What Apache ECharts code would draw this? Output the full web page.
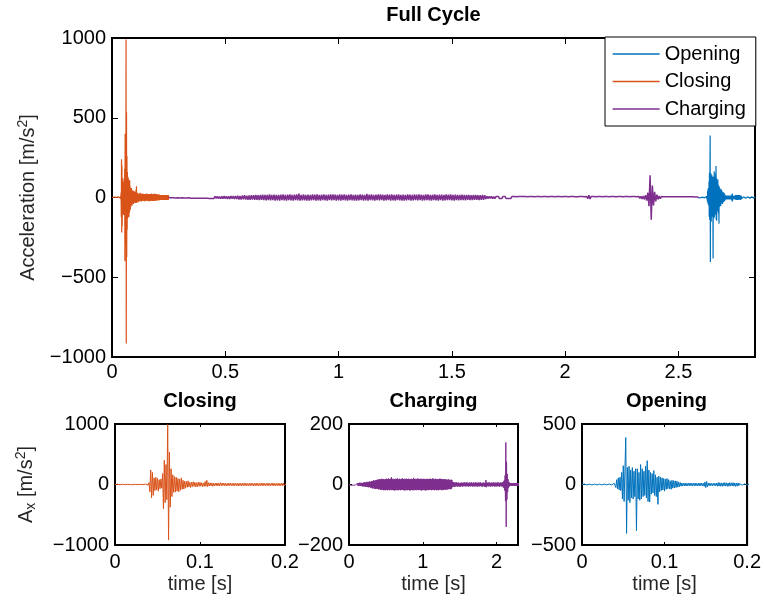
<!DOCTYPE html>
<html><head><meta charset="utf-8">
<script src="https://cdn.jsdelivr.net/npm/echarts@6/dist/echarts.min.js"></script>
<style>html,body{margin:0;padding:0;background:#fff}#c{width:764px;height:601px}</style>
</head><body><div id="c"></div>
<script>
// ---- data ----
const closingDt = 0.001, chargingDt = 0.005, openingDt = 0.001;   // sample step [s]
const closingStart = 0, chargingStart = 0.25, openingStart = 2.587; // position in full cycle [s]
const seriesNames = ['Opening', 'Closing', 'Charging'];
const fullCycleXTicks = [0, 0.5, 1, 1.5, 2, 2.5];

const closingAccel = [
 0,2,-2,3,-1,2,-3,1,-2,3,
 -2,1,-3,2,-1,3,-2,2,-3,1,
 2,-2,3,-1,2,-3,1,-2,4,-3,
 2,-4,3,-2,5,-4,6,-5,8,-10,
 30,-120,240,-220,200,-180,110,-100,120,-90,
 100,-110,80,-70,90,-60,180,-400,400,-300,
 330,-250,990,-915,535,-375,260,-200,160,-130,
 130,-125,120,-110,100,-120,90,-95,110,-80,
 70,-75,55,-60,50,-45,60,-40,35,-50,
 40,-35,45,-30,35,-40,30,-35,40,-30,
 35,-28,30,-35,25,-30,50,-30,70,-35,
 30,-25,28,-22,25,-30,20,-25,22,-20,
 25,-22,20,-25,30,-20,22,-18,25,-22,
 20,-25,18,-20,22,-18,25,-20,18,-22,
 20,-18,22,-20,18,-25,20,-18,22,-20,
 18,-20,25,-18,20,-22,18,-20,22,-18,
 20,-18,22,-25,18,-20,22,-18,20,-22,
 18,-20,22,-18,25,-20,18,-22,20,-18,
 22,-20,18,-22,20,-18,25,-20,18,-22,
 20,-18,22,-20,18,-20,22,-18,20,-18,
 15,-18,20,-15,18,-15,16,-18,15,-16,
 18,-15,16,-14,15,-16,14,-15,16,-14,
 15,-14,16,-15,14,-16,15,-14,16,-15,
 14,-15,16,-14,15,-14,16,-15,14,-16,
 15,-14,16,-15,14,-15,14,-16,15,-14,12
];

const chargingAccel = [
 0,2,-2,3,-2,1,-3,2,-2,3,-3,2,-2,3,-3,2,-3,3,-2,3,
 -4,3,-4,5,-4,4,-5,5,-4,6,-5,4,-5,6,-5,5,-6,5,-6,6,
 -6,7,-6,8,-7,6,-8,7,-8,9,-7,8,-9,8,-9,10,-8,9,-10,9,
 -10,11,-12,10,-13,12,-11,14,-13,12,-14,13,-15,14,-13,15,-14,16,-15,14,
 -16,17,-15,18,-16,17,-18,16,-17,19,-18,17,-16,18,-19,17,-18,16,-19,18,
 -17,19,-18,16,-19,18,-17,20,-18,17,-19,18,-16,19,-18,24,-19,17,-18,19,
 -18,17,-19,18,-20,17,-18,19,-17,18,-19,20,-18,17,-19,18,-17,19,-18,17,
 -19,18,-17,19,-18,20,-17,18,-19,17,-18,19,-20,18,-17,19,-18,17,-19,18,
 -17,19,-18,17,-19,18,-20,17,-18,19,-17,18,-19,17,-18,22,-19,18,-17,19,
 -18,17,-19,18,-17,19,-18,20,-17,18,-19,17,-18,19,-17,18,-20,19,-18,17,
 -19,18,-17,19,-18,17,-19,18,-20,17,-18,19,-17,18,-19,17,-18,19,-17,18,
 -18,19,-17,18,-19,17,-18,20,-17,19,-18,17,-19,18,-17,19,-18,17,-19,18,
 -17,18,-19,17,-18,19,-17,18,-16,19,-18,17,-19,18,-17,16,-18,17,-16,18,
 -17,16,-18,17,-15,16,-17,15,-16,17,-15,16,-14,15,-16,14,-15,16,-14,15,
 -9,8,-7,8,-6,7,-8,6,-7,6,-5,7,-6,5,-7,6,-5,6,-7,5,
 -6,5,-7,6,-5,6,-6,5,-7,6,-5,6,-6,7,-5,6,-6,5,-6,7,
 -5,6,-6,5,-7,6,-5,6,-6,5,-6,7,-5,6,-6,5,-7,6,-5,6,
 -6,5,-6,7,-5,6,-6,5,-7,6,-5,6,-6,5,-6,7,-5,6,-6,5,
 -6,5,-7,6,-5,6,-6,5,-7,6,-8,15,-9,6,-5,6,-6,5,-6,7,
 -5,6,-6,5,-7,6,-5,6,-6,5,-6,7,-5,6,-6,5,-7,6,-5,6,
 -6,5,-6,7,-5,6,-6,5,-7,6,-5,6,-6,5,-6,7,-6,8,-9,10,
 -12,15,-20,30,-55,139,-140,75,-50,35,-25,18,-12,9,-7,6,-5,5,-4,5,
 -4,5,-4,4,-5,4,-4,5,-4,4,-5,4,-4,5,-4,4,-5,4,-4,5,
 -4,4,-5,4,-4,3,-4,3,-3
];

const openingAccel = [
 0,2,-2,3,-2,1,-3,2,-2,3,
 -2,2,-3,1,-2,3,-2,2,-3,2,
 -2,3,-1,2,-3,2,-2,3,-2,1,
 -3,2,-2,4,-3,5,-4,6,-8,10,
 15,-25,40,-35,55,-45,60,-50,100,-120,
 155,-140,120,388,-404,140,-130,150,-150,120,
 -110,140,-120,110,-100,130,-383,130,-120,100,
 -130,165,-120,130,-100,110,-90,150,-110,197,
 -140,120,-145,100,-80,90,-70,115,-90,80,
 -100,60,-164,70,-60,60,-50,55,-45,50,
 -55,45,-40,50,-35,40,-35,30,-40,35,
 -30,32,-28,30,-25,28,-22,20,-18,16,
 -14,12,-13,12,-11,12,-12,10,-12,11,
 -10,12,-11,10,-12,11,-10,12,-11,10,
 -12,10,-11,12,-10,11,-12,10,-15,20,
 -25,25,-20,12,-10,11,-10,9,-11,10,
 -9,10,-11,12,-14,15,-13,15,-14,12,
 -15,14,-12,15,-13,14,-15,12,-14,15,
 -13,14,-12,15,-14,13,-15,12,-14,13,
 -10,8,-6,5,-6,5,-4,5,-6,4,
 -5,4,-5,6,-4,5,-3,5,-6,4,
 -4,5,-5,3,-4,6,-4,5,-5,4,
 -5,3,-6,5,-4,4,-5,6,-4,5,
 -4,5,-5,4,-6,5,-3,4,-5,6,
 -5,4,-4,6,-5,3,-4,5,-6,4,
 -5,4,-3
];

// ---- build [t, a] pairs from sample clock ----
function toPairs(arr, dt, offset) { return arr.map((a, i) => [+(offset + i * dt).toFixed(4), a]); }
const closingLocal = toPairs(closingAccel, closingDt, 0);
const chargingLocal = toPairs(chargingAccel, chargingDt, 0);
const openingLocal = toPairs(openingAccel, openingDt, 0);
const closingFull = toPairs(closingAccel, closingDt, closingStart);
const chargingFull = toPairs(chargingAccel, chargingDt, chargingStart);
const openingFull = toPairs(openingAccel, openingDt, openingStart);

const colors = { Opening: '#0072BD', Closing: '#D95319', Charging: '#7E2F8E' };
const FONT = '"Liberation Sans", Arial, Helvetica, sans-serif';
const fmt = v => String(+v.toFixed(3)).replace('-', '\u2212');

const grids = [
  { left: 112, top: 38, width: 643, height: 319 },
  { left: 115, top: 424, width: 170, height: 121 },
  { left: 349, top: 424, width: 169, height: 121 },
  { left: 582, top: 424, width: 169, height: 121 }
].map(g => Object.assign({ show: true, borderColor: '#000', borderWidth: 2, backgroundColor: 'transparent' }, g));

const tickLen = [6, 3, 3, 3];
const xCfg = [
  { min: 0, max: 2.838, interval: 0.5, showMax: false, margin: 5 },
  { min: 0, max: 0.2, interval: 0.1, showMax: true, margin: 7, name: 'time [s]' },
  { min: 0, max: 2.29, interval: 1, showMax: false, margin: 7, name: 'time [s]' },
  { min: 0, max: 0.2, interval: 0.1, showMax: true, margin: 7, name: 'time [s]' }
];
const yCfg = [
  { min: -1000, max: 1000, interval: 500, name: 'Acceleration [m/s{sup|2}]', gap: 59 },
  { min: -1000, max: 1000, interval: 1000, name: 'A{sub|x} [m/s{sup|2}]', gap: 76 },
  { min: -200, max: 200, interval: 200 },
  { min: -500, max: 500, interval: 500 }
];
const richStyles = {
  sup: { fontSize: 14, fontFamily: FONT, color: '#262626', padding: [0, 0, 11, 0] },
  sub: { fontSize: 14, fontFamily: FONT, color: '#262626', padding: [10, 0, 0, 0] }
};

const xAxis = [], yAxis = [];
grids.forEach((g, i) => {
  const xc = xCfg[i], yc = yCfg[i];
  ['bottom', 'top'].forEach((pos, k) => {
    xAxis.push({
      type: 'value', gridIndex: i, position: pos, min: xc.min, max: xc.max, interval: xc.interval,
      axisLine: { show: true, onZero: false, lineStyle: { color: '#000', width: 2 } },
      axisTick: { show: true, inside: true, length: tickLen[i], lineStyle: { color: '#000', width: 1 } },
      axisLabel: { show: k === 0, color: '#000', fontSize: 20, fontFamily: FONT, margin: xc.margin,
                   showMaxLabel: xc.showMax, showMinLabel: true, formatter: fmt },
      splitLine: { show: false },
      name: k === 0 && xc.name ? xc.name : '', nameLocation: 'middle', nameGap: 29,
      nameTextStyle: { color: '#262626', fontSize: 20, fontFamily: FONT }
    });
  });
  ['left', 'right'].forEach((pos, k) => {
    yAxis.push({
      type: 'value', gridIndex: i, position: pos, min: yc.min, max: yc.max, interval: yc.interval,
      axisLine: { show: true, onZero: false, lineStyle: { color: '#000', width: 2 } },
      axisTick: { show: true, inside: true, length: tickLen[i], lineStyle: { color: '#000', width: 1 } },
      axisLabel: { show: k === 0, color: '#000', fontSize: 20, fontFamily: FONT, margin: 6, formatter: fmt },
      splitLine: { show: false },
      name: k === 0 && yc.name ? yc.name : '', nameLocation: 'middle', nameGap: yc.gap || 50,
      nameTextStyle: { color: '#262626', fontSize: 20, fontFamily: FONT, rich: richStyles }
    });
  });
});

function lineSeries(name, data, gi, z, w) {
  return {
    name, type: 'line', data, xAxisIndex: gi * 2, yAxisIndex: gi * 2, symbol: 'none', showSymbol: false,
    lineStyle: { color: colors[name], width: w || 1 }, itemStyle: { color: colors[name] }, color: colors[name],
    z, animation: false, silent: true, clip: true
  };
}

const series = [
  lineSeries('Opening', openingFull, 0, 2, 1.2),
  lineSeries('Closing', closingFull, 0, 3, 1.2),
  lineSeries('Charging', chargingFull, 0, 4, 1.5),
  lineSeries('Closing', closingLocal, 1, 3),
  lineSeries('Charging', chargingLocal, 2, 3),
  lineSeries('Opening', openingLocal, 3, 3)
];

const titles = [
  { text: 'Full Cycle', x: 433.5, y: 15 },
  { text: 'Closing', x: 200, y: 401 },
  { text: 'Charging', x: 433.5, y: 401 },
  { text: 'Opening', x: 666.5, y: 401 }
];

const chart = echarts.init(document.getElementById('c'), null, { renderer: 'canvas' });
chart.setOption({
  backgroundColor: '#fff',
  animation: false,
  grid: grids, xAxis, yAxis, series,
  legend: {
    data: seriesNames.map(n => ({ name: n, lineStyle: { color: colors[n], width: 1.3 } })),
    orient: 'vertical', left: 605, top: 37,
    itemWidth: 47, itemHeight: 20, itemGap: 7.5, itemTextGap: 4,
    padding: [7, 10, 7, 7], backgroundColor: '#fff', borderColor: '#000', borderWidth: 1, borderRadius: 0,
    itemStyle: { opacity: 0 },
    textStyle: { color: '#000', fontSize: 20, fontFamily: FONT },
    selectedMode: false, z: 10
  },
  graphic: titles.map(t => ({
    type: 'text', x: t.x, y: t.y, z: 10,
    style: { text: t.text, fontSize: 20, fontWeight: 'bold', fontFamily: FONT, fill: '#000',
             textAlign: 'center', textVerticalAlign: 'middle', verticalAlign: 'middle' }
  }))
});
</script>
</body></html>
